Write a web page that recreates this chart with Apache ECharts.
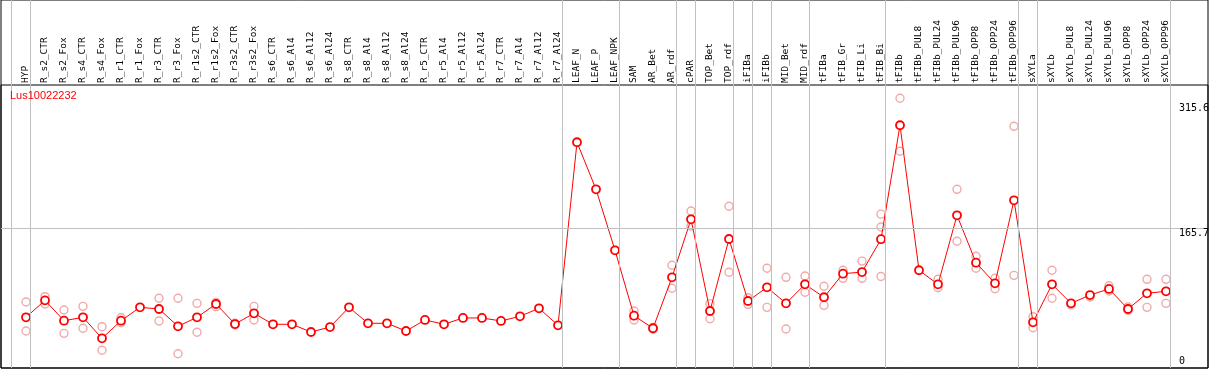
<!DOCTYPE html>
<html><head><meta charset="utf-8">
<script src="https://cdn.jsdelivr.net/npm/echarts@6/dist/echarts.min.js"></script>
<style>html,body{margin:0;padding:0;background:#fff}#c{width:1209px;height:370px}</style>
</head><body><div id="c"></div>
<script>
const titleText = 'Lus10022232';
const categories = ['HYP','R_s2_CTR','R_s2_Fox','R_s4_CTR','R_s4_Fox','R_r1_CTR','R_r1_Fox','R_r3_CTR','R_r3_Fox','R_r1s2_CTR','R_r1s2_Fox','R_r3s2_CTR','R_r3s2_Fox','R_s6_CTR','R_s6_Al4','R_s6_Al12','R_s6_Al24','R_s8_CTR','R_s8_Al4','R_s8_Al12','R_s8_Al24','R_r5_CTR','R_r5_Al4','R_r5_Al12','R_r5_Al24','R_r7_CTR','R_r7_Al4','R_r7_Al12','R_r7_Al24','LEAF_N','LEAF_P','LEAF_NPK','SAM','AR_Bet','AR_rdf','cPAR','TOP_Bet','TOP_rdf','iFIBa','iFIBb','MID_Bet','MID_rdf','tFIBa','tFIB_Gr','tFIB_Li','tFIB_Bi','tFIBb','tFIBb_PUL8','tFIBb_PUL24','tFIBb_PUL96','tFIBb_OPP8','tFIBb_OPP24','tFIBb_OPP96','sXYLa','sXYLb','sXYLb_PUL8','sXYLb_PUL24','sXYLb_PUL96','sXYLb_OPP8','sXYLb_OPP24','sXYLb_OPP96'];
const means = [58.6,79.0,54.5,58.6,33.3,54.5,70.6,68.6,47.8,58.6,74.6,50.5,63.4,50.2,50.2,40.9,46.9,70.6,51.4,51.4,42.1,55.4,50.2,57.8,57.8,54.2,59.8,69.4,49.0,269.2,212.6,139.2,60.5,45.4,106.7,176.5,66.2,152.8,78.2,94.7,75.4,98.3,82.7,111.1,113.0,152.6,289.7,115.2,98.3,181.3,124.3,99.5,199.4,52.6,98.3,75.4,85.4,92.7,68.6,87.5,89.9];
const replicates = [[77.0,42.1],[83.4,74.6],[67.4,39.3],[71.8,45.4],[47.3,18.9],[58.1,52.0],[],[81.5,54.2],[81.5,14.8],[75.4,40.6],[76.6,71.4],[51.5,49.5],[71.8,55.4],
 [],[],[],[],[],[],[],[],[],[],[],[],[],[],[],[],[],[],[],
 [66.2,55.4],[46.5,44.3],[121.2,93.5],[186.5,168.5],[75.0,56.9],[192.2,112.8],[82.2,74.2],[117.6,70.6],[106.7,44.5],[108.3,88.7],[95.9,73.0],[115.2,105.5],[126.2,105.5],[182.7,167.3,107.7],[322.1,258.4],[],[104.3,94.2],[212.6,150.1],[132.0,117.6],[105.5,93.0],[288.4,109.1],[59.3,46.1],[115.2,81.5],[73.4],[83.0],[96.6,90.3],[71.0,67.0],[104.3,70.6],[104.3,75.4]];
const groupStarts = ['HYP','R_s2_CTR','LEAF_N','SAM','cPAR','TOP_Bet','iFIBa','iFIBb','MID_Bet','tFIBa','tFIBb','sXYLa','sXYLb'];
const refValue = 165.7;
const valueLabels = [315.6, 165.7, 0];

// layout
const STEP = 19, X0 = 26;          // category spacing and first centre (px)
const FRAME_L = 1, FRAME_R = 1208, FRAME_T = 0, PLOT_T = 85, FRAME_B = 368;
const Y_MIN = -2.4, Y_MAX = 338.1;
const SEP_OFFSET = -0.76;          // separator position relative to group start (in category units)
const LABEL_X = 1179;
const N = categories.length;
const toIdx = px => (px - X0) / STEP;
const xMinIdx = toIdx(FRAME_L), xMaxIdx = toIdx(FRAME_R);

const sepData = groupStarts.map(c => ({xAxis: categories.indexOf(c) + SEP_OFFSET}));
sepData.push({xAxis: N + SEP_OFFSET});

const repData = [];
replicates.forEach((arr, i) => arr.forEach(v => repData.push([categories[i], v])));

const monoFont = 'DejaVu Sans Mono';
const labelLines = valueLabels.map(v => {
  const isZero = v === 0;
  return [
    {coord: [toIdx(LABEL_X), v], lineStyle: {color: 'rgba(0,0,0,0)', width: 1},
     label: {show: true, formatter: String(v), position: isZero ? 'insideStartTop' : 'insideStartBottom',
             distance: 0, padding: 0, color: '#000', opacity: 1, fontFamily: monoFont, fontSize: 10}},
    {coord: [xMaxIdx, v]}
  ];
});

const chart = echarts.init(document.getElementById('c'), null, {renderer: 'canvas'});
chart.setOption({
  animation: false,
  backgroundColor: '#fff',
  title: {text: titleText, left: 10, top: 90, padding: 0,
          textStyle: {color: '#ff0000', fontFamily: 'Liberation Sans', fontSize: 11, fontWeight: 'normal'}},
  grid: [
    {left: X0 - STEP / 2, width: N * STEP, top: PLOT_T, height: FRAME_B - PLOT_T, show: false},
    {left: FRAME_L, width: FRAME_R - FRAME_L, top: PLOT_T, height: FRAME_B - PLOT_T, show: true, borderColor: '#000', borderWidth: 1, backgroundColor: 'transparent'},
    {left: FRAME_L, width: FRAME_R - FRAME_L, top: FRAME_T, height: FRAME_B - FRAME_T, show: true, borderColor: '#000', borderWidth: 1, backgroundColor: 'transparent'}
  ],
  xAxis: [
    {gridIndex: 0, type: 'category', position: 'top', data: categories,
     axisLine: {show: false}, axisTick: {show: false}, splitLine: {show: false},
     axisLabel: {rotate: 90, interval: 0, margin: 2, color: '#000', fontFamily: monoFont, fontSize: 9.5}},
    {gridIndex: 1, type: 'value', min: xMinIdx, max: xMaxIdx, show: false},
    {gridIndex: 2, type: 'value', min: xMinIdx, max: xMaxIdx, show: false}
  ],
  yAxis: [
    {gridIndex: 0, type: 'value', min: Y_MIN, max: Y_MAX, show: false},
    {gridIndex: 1, type: 'value', min: Y_MIN, max: Y_MAX, show: false},
    {gridIndex: 2, type: 'value', min: 0, max: 1, show: false}
  ],
  series: [
    {type: 'line', xAxisIndex: 2, yAxisIndex: 2, data: [], silent: true, z: 1,
     markLine: {symbol: 'none', silent: true, animation: false,
       lineStyle: {color: '#c0c0c0', type: 'solid', width: 1}, label: {show: false}, data: sepData}},
    {type: 'line', xAxisIndex: 1, yAxisIndex: 1, data: [], silent: true, z: 5,
     markLine: {symbol: 'none', silent: true, animation: false,
       lineStyle: {color: '#c0c0c0', type: 'solid', width: 1}, label: {show: false},
       data: [{yAxis: refValue}].concat(labelLines)}},
    {type: 'scatter', xAxisIndex: 0, yAxisIndex: 0, data: repData, z: 3,
     symbol: 'circle', symbolSize: 8,
     itemStyle: {color: 'rgba(0,0,0,0)', borderColor: '#ee9494', borderWidth: 1.4}},
    {type: 'line', xAxisIndex: 0, yAxisIndex: 0, data: means, z: 4,
     symbol: 'circle', symbolSize: 8, showAllSymbol: true,
     lineStyle: {color: '#ff0000', width: 1},
     itemStyle: {color: '#ffffff', borderColor: '#ff0000', borderWidth: 1.8}}
  ]
});
</script></body></html>
